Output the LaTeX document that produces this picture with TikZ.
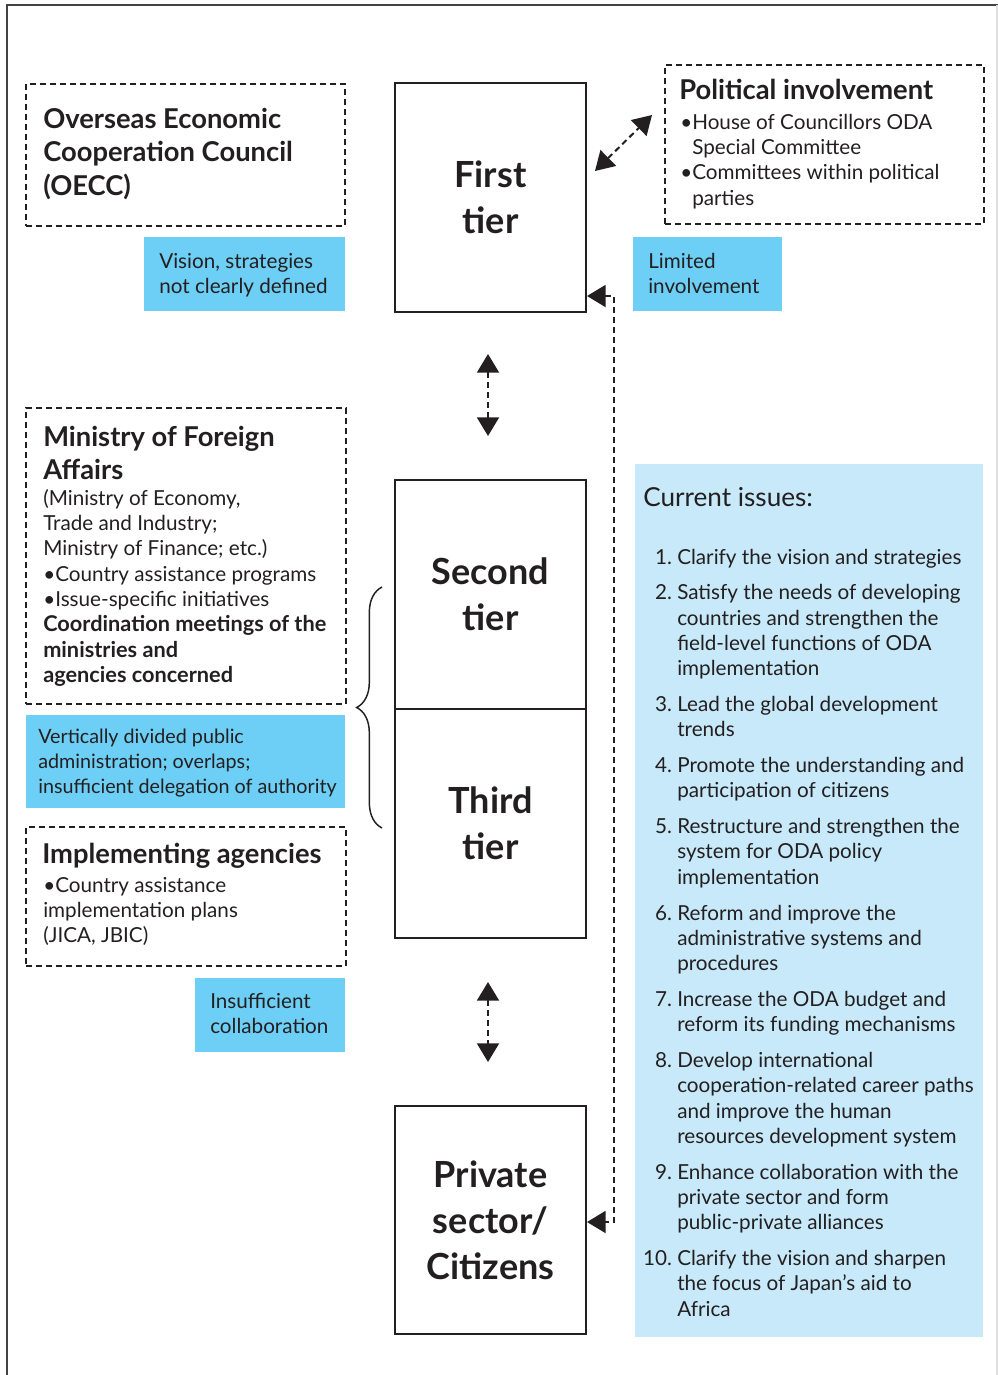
\documentclass[tikz,border=0pt]{standalone}
\usepackage{fontspec}
\setmainfont{Lato}
\usetikzlibrary{arrows.meta,decorations.pathreplacing}
\definecolor{ink}{HTML}{231F20}
\definecolor{cyanbox}{HTML}{6DCFF6}
\definecolor{palebox}{HTML}{C7E9F9}
\newcommand\bodyf{\fontsize{15.5pt}{19pt}\selectfont}
\newcommand\titlef{\fontsize{20.5pt}{25pt}\selectfont\bfseries}
\newcommand\headf{\fontsize{19.6pt}{25pt}\selectfont}
\newcommand\tierf{\fontsize{27pt}{34.5pt}\selectfont\bfseries}
\newcommand\bul{\makebox[9pt][l]{•}}
\newcommand\numit[1]{\makebox[26.25pt][r]{#1\ }}
\newcommand\contl{\hspace*{26.25pt}}
\newcommand\demi[1]{{\fontsize{16.3pt}{19pt}\selectfont\bfseries #1}}
\begin{document}
\begin{tikzpicture}[x=0.75pt,y=-0.75pt,
  every node/.style={text=ink},
  dbox/.style={draw=ink,line width=1.5pt,dash pattern=on 4.5pt off 3pt,anchor=north west,inner sep=0pt},
  tierbox/.style={draw=ink,line width=1.5pt,anchor=north west,inner sep=0pt,align=center,font=\tierf},
  cbox/.style={fill=cyanbox,anchor=north west,inner sep=0pt},
  pbox/.style={fill=palebox,anchor=north west,inner sep=0pt},
  txt/.style={anchor=north west,inner sep=0pt,align=left,font=\bodyf},
  ttl/.style={anchor=north west,inner sep=0pt,align=left,font=\titlef},
  darr/.style={draw=ink,line width=1.5pt,dash pattern=on 4.5pt off 3pt,{Triangle[width=16.5pt,length=14pt]}-{Triangle[width=16.5pt,length=14pt]}},
]
\useasboundingbox (0,0) rectangle (998,1375);
% frame
\draw[line width=1.5pt,draw=ink!85] (7,1375) -- (7,5) -- (998,5);
\draw[line width=0.8pt,draw=black!12] (997,5) -- (997,1375);

% boxes
\node[dbox,minimum width=239.25pt,minimum height=106.5pt] (oecc) at (25,83) {};
\node[cbox,minimum width=150.75pt,minimum height=55.5pt] (vision) at (144,237) {};
\node[dbox,minimum width=239.25pt,minimum height=119.25pt] (pol) at (664,64) {};
\node[cbox,minimum width=111.75pt,minimum height=55.5pt] (limited) at (633,237) {};
\node[dbox,minimum width=240pt,minimum height=222pt] (mofa) at (25,407) {};
\node[cbox,minimum width=239.25pt,minimum height=69.75pt] (vert) at (26,715) {};
\node[dbox,minimum width=240pt,minimum height=104.25pt] (impl) at (25,826) {};
\node[cbox,minimum width=112.5pt,minimum height=55.5pt] (insuf) at (195,978) {};
\node[pbox,minimum width=261pt,minimum height=654.75pt] (issues) at (635,464) {};

\node[tierbox,minimum width=143.25pt,minimum height=171.75pt] (first) at (394,82) {First\\tier};
\node[tierbox,minimum width=143.25pt,minimum height=171.75pt] (second) at (394,479) {Second\\tier};
\node[tierbox,minimum width=143.25pt,minimum height=171.75pt] (third) at (394,708) {Third\\tier};
\node[tierbox,minimum width=143.25pt,minimum height=171pt] (private) at (394,1105) {Private\\sector/\\Citizens};

% texts
\node[ttl] (oecct) at (43,105) {\strut Overseas Economic\\Cooperation Council\\(OECC)};
\node[txt] (visiont) at (159,250) {\strut Vision, strategies\\not clearly defined};
\node[ttl] (polt) at (679,76) {\strut Political involvement};
\node[txt] (polb) at (680,111) {\strut\bul House of Councillors ODA\\\hspace*{9pt}Special Committee\\\bul Committees within political\\\hspace*{9pt}parties};
\node[txt] (limitedt) at (648,250) {\strut Limited\\involvement};
\node[ttl] (mofat) at (43,423) {\strut Ministry of Foreign\\Affairs};
\node[txt] (mofab) at (43,487) {\strut(Ministry of Economy,\\Trade and Industry;\\Ministry of Finance; etc.)\\\bul Country assistance programs\\\bul Issue-specific initiatives\\\demi{Coordination meetings of the}\\\demi{ministries and}\\\demi{agencies concerned}};
\node[txt,font=\fontsize{14.8pt}{19pt}\selectfont] (vertt) at (38,725) {\strut Vertically divided public\\administration; overlaps;\\insufficient delegation of authority};
\node[ttl] (implt) at (42,840) {\strut Implementing agencies};
\node[txt] (implb) at (43,874) {\strut\bul Country assistance\\implementation plans\\(JICA, JBIC)};
\node[txt] (insuft) at (210,990) {\strut Insufficient\\collaboration};
\node[ttl,font=\headf] (issuest) at (643,483) {\strut Current issues:};
\node[txt] (issuesl) at (642,546) {\strut\numit{1.}Clarify the vision and strategies\\[7.8pt]
\numit{2.}Satisfy the needs of developing\\\contl countries and strengthen the\\\contl field-level functions of ODA\\\contl implementation\\[7.8pt]
\numit{3.}Lead the global development\\\contl trends\\[7.8pt]
\numit{4.}Promote the understanding and\\\contl participation of citizens\\[7.8pt]
\numit{5.}Restructure and strengthen the\\\contl system for ODA policy\\\contl implementation\\[7.8pt]
\numit{6.}Reform and improve the\\\contl administrative systems and\\\contl procedures\\[7.8pt]
\numit{7.}Increase the ODA budget and\\\contl reform its funding mechanisms\\[7.8pt]
\numit{8.}Develop international\\\contl cooperation-related career paths\\\contl and improve the human\\\contl resources development system\\[7.8pt]
\numit{9.}Enhance collaboration with the\\\contl private sector and form\\\contl public-private alliances\\[7.8pt]
\numit{10.}Clarify the vision and sharpen\\\contl the focus of Japan’s aid to\\\contl Africa};

% arrows
\coordinate (a1) at (488,354); \coordinate (a2) at (488,436);
\draw[darr] (a1) -- (a2);
\coordinate (b1) at (488,982); \coordinate (b2) at (488,1062);
\draw[darr] (b1) -- (b2);
\coordinate (c1) at (595,171); \coordinate (c2) at (652,115);
\draw[darr] (c1) -- (c2);
\coordinate (fbtop) at (first.east |- 0,296);
\coordinate (fbbot) at (private.east |- 0,1222);
\draw[darr] (fbtop) -- (614,296) -- (614,1222) -- (fbbot);

% brace
\coordinate (br1) at (382,828); \coordinate (br2) at (382,587);
\draw[draw=ink,line width=1.1pt,decorate,decoration={brace,amplitude=19pt}] (br1) -- (br2);
\end{tikzpicture}
\end{document}
